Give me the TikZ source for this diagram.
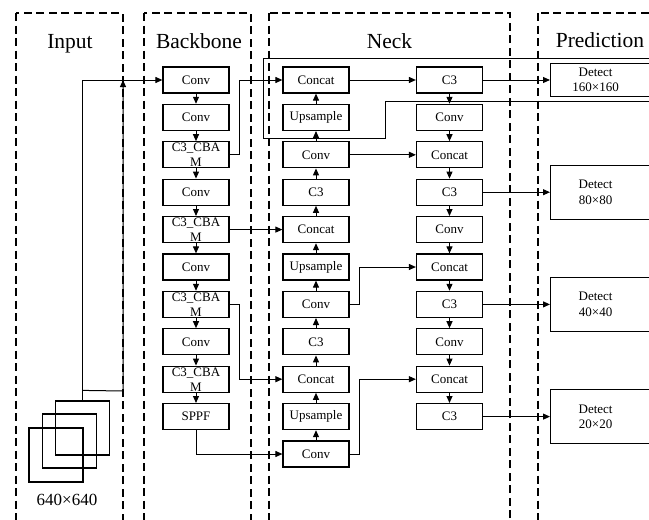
\documentclass[tikz,border=0pt]{standalone}
\usepackage{fontspec}
\setmainfont{Liberation Serif}
\usetikzlibrary{arrows.meta,calc}
\begin{document}
\begin{tikzpicture}[x=1pt,y=-1pt,
 box/.style={draw, line width=1.2pt, minimum width=66pt, minimum height=26pt, inner sep=0pt, font=\fontsize{13}{15}\selectfont},
 lbl/.style={inner sep=0pt, align=center, font=\fontsize{13}{15}\selectfont},
 frame/.style={draw, line width=1.2pt, dash pattern=on 8pt off 4.5pt},
 title/.style={font=\fontsize{21.5}{24}\selectfont, anchor=base, inner sep=0pt},
 arr/.style={line width=1pt, -{Triangle[length=7pt,width=6pt]}},
 ln/.style={line width=1pt},
 det/.style={draw, line width=1.2pt, anchor=west, minimum height=54pt, inner xsep=0pt, inner ysep=0pt, font=\fontsize{13}{15.5}\selectfont},
 sq/.style={draw, line width=1.2pt, minimum size=54pt, inner sep=0pt}
]
\useasboundingbox (0,0) rectangle (649,520);
\clip (0,0) rectangle (649,520);
\fill[white] (0,0) rectangle (649,520);

% frames
\draw[frame] (16,13) rectangle (123,545);
\draw[frame] (144,13) rectangle (251,545);
\draw[frame] (269,13) rectangle (510,545);
\draw[frame] (538,13) rectangle (680,545);

% titles
\node[title] (tIn) at (70,48) {Input};
\node[title] (tBb) at (199,48) {Backbone};
\node[title] (tNk) at (389.5,48) {Neck};
\node[title] (tPr) at (600,47) {Prediction};

% backbone
\node[box] (b0) at (196,80) {Conv};
\node[box] (b1) at (196,117.4) {Conv};
\node[box] (b2) at (196,154.8) {};
\node[lbl] (b2t) at (196,154.8) {C3\_CBA\\M};
\node[box] (b3) at (196,192.2) {Conv};
\node[box] (b4) at (196,229.6) {};
\node[lbl] (b4t) at (196,229.6) {C3\_CBA\\M};
\node[box] (b5) at (196,267) {Conv};
\node[box] (b6) at (196,304.4) {};
\node[lbl] (b6t) at (196,304.4) {C3\_CBA\\M};
\node[box] (b7) at (196,341.8) {Conv};
\node[box] (b8) at (196,379.2) {};
\node[lbl] (b8t) at (196,379.2) {C3\_CBA\\M};
\node[box] (b9) at (196,416.6) {SPPF};

% neck left
\node[box] (n0) at (316,80) {Concat};
\node[box] (n1) at (316,117.4) {Upsample};
\node[box] (n2) at (316,154.8) {Conv};
\node[box] (n3) at (316,192.2) {C3};
\node[box] (n4) at (316,229.6) {Concat};
\node[box] (n5) at (316,267) {Upsample};
\node[box] (n6) at (316,304.4) {Conv};
\node[box] (n7) at (316,341.8) {C3};
\node[box] (n8) at (316,379.2) {Concat};
\node[box] (n9) at (316,416.6) {Upsample};
\node[box] (n10) at (316,454) {Conv};

% neck right
\node[box] (r0) at (449.5,80) {C3};
\node[box] (r1) at (449.5,117.4) {Conv};
\node[box] (r2) at (449.5,154.8) {Concat};
\node[box] (r3) at (449.5,192.2) {C3};
\node[box] (r4) at (449.5,229.6) {Conv};
\node[box] (r5) at (449.5,267) {Concat};
\node[box] (r6) at (449.5,304.4) {C3};
\node[box] (r7) at (449.5,341.8) {Conv};
\node[box] (r8) at (449.5,379.2) {Concat};
\node[box] (r9) at (449.5,416.6) {C3};

% detect
\node[det, minimum height=33pt] (d0) at (550,80) {\parbox{90pt}{\centering Detect\\160×160}\rule{40pt}{0pt}};
\node[det] (d1) at (550,192.2) {\parbox{90pt}{\centering Detect\\80×80}\rule{40pt}{0pt}};
\node[det] (d2) at (550,304.4) {\parbox{90pt}{\centering Detect\\40×40}\rule{40pt}{0pt}};
\node[det] (d3) at (550,416.6) {\parbox{90pt}{\centering Detect\\20×20}\rule{40pt}{0pt}};

% input squares
\node[sq] (s1) at (56,455) {};
\node[sq] (s2) at (69.5,441) {};
\node[sq] (s3) at (82.5,428) {};
\node[font=\fontsize{17}{20}\selectfont, inner sep=0pt] (res) at (67,500) {640×640};

% input connectors
\draw[arr] (s3.north) |- (b0.west);
\coordinate (ia) at ($(s3.north)+(0,-10)$);
\coordinate (ib) at (123,391);
\draw[arr] (ia) -- (ib) -- (ib |- b0.west);

% backbone chain
\foreach \a/\b in {b0/b1,b1/b2,b2/b3,b3/b4,b4/b5,b5/b6,b6/b7,b7/b8,b8/b9}
  \draw[arr] (\a) -- (\b);

% backbone to neck
\draw[arr] (b2.east) -- ++(10,0) |- (n0.west);
\draw[arr] (b4.east) -- (n4.west);
\draw[arr] (b6.east) -- ++(10,0) |- (n8.west);
\draw[arr] (b9.south) |- (n10.west);

% neck left chain (upward)
\foreach \a/\b in {n10/n9,n9/n8,n8/n7,n7/n6,n6/n5,n5/n4,n4/n3,n3/n2,n2/n1,n1/n0}
  \draw[arr] (\a) -- (\b);

% neck left to right
\draw[arr] (n0.east) -- (r0.west);
\draw[arr] (n2.east) -- (r2.west);
\draw[arr] (n6.east) -- ++(10,0) |- (r5.west);
\draw[arr] (n10.east) -- ++(10,0) |- (r8.west);

% neck right chain (downward)
\foreach \a/\b in {r0/r1,r1/r2,r2/r3,r3/r4,r4/r5,r5/r6,r6/r7,r7/r8,r8/r9}
  \draw[arr] (\a) -- (\b);

% to detect
\draw[arr] (r0.east) -- (d0.west);
\draw[arr] (r3.east) -- (d1.west);
\draw[arr] (r6.east) -- (d2.west);
\draw[arr] (r9.east) -- (d3.west);

% extra outline
\coordinate (w1) at (660,58);
\coordinate (w2) at (263.5,58);
\coordinate (w3) at (263.5,138.5);
\coordinate (w4) at (385.5,138.5);
\coordinate (w5) at (385.5,101);
\coordinate (w6) at (660,101);
\draw[ln] (w1) -- (w2) -- (w3) -- (w4) -- (w5) -- (w6);
\end{tikzpicture}
\end{document}
